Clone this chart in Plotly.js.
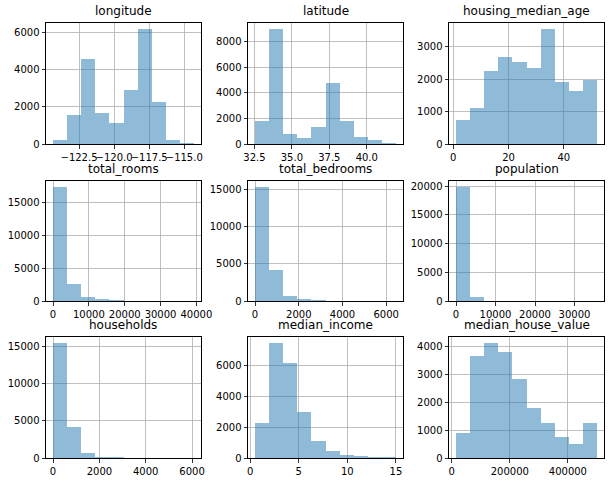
<!DOCTYPE html>
<html>
<head>
<meta charset="utf-8">
<script src="https://cdn.plot.ly/plotly-3.0.1.min.js"></script>
<style>html,body{margin:0;padding:0;background:#fff;}#chart{width:611px;height:482px;}</style>
</head>
<body>
<div id="chart"></div>
<script>
// Panel titles (column names)
const columns = ['longitude','latitude','housing_median_age','total_rooms','total_bedrooms','population','households','median_income','median_house_value'];

// Data range (min, max) of each column: the 10 equal bins span it
const longitudeRange = [-124.35, -114.31];
const latitudeRange = [32.54, 41.95];
const housingMedianAgeRange = [1, 52];
const totalRoomsRange = [2, 39320];
const totalBedroomsRange = [1, 6445];
const populationRange = [3, 35682];
const householdsRange = [1, 6082];
const medianIncomeRange = [0.4999, 15.0001];
const medianHouseValueRange = [14999, 500001];

// Bin counts (10 bins each)
const longitudeCounts = [216, 1568, 4595, 1676, 1135, 2919, 6216, 2270, 216, 54];
const latitudeCounts = [1824, 8990, 782, 495, 1329, 4769, 1798, 547, 313, 78];
const housingMedianAgeCounts = [742, 1113, 2258, 2691, 2536, 2351, 3557, 1918, 1639, 1990];
const totalRoomsCounts = [17409, 2659, 602, 230, 150, 30, 10, 4, 2, 2];
const totalBedroomsCounts = [15318, 4127, 666, 250, 120, 30, 10, 4, 2, 1];
const populationCounts = [19885, 690, 48, 10, 3, 1, 0, 1, 0, 1];
const householdsCounts = [15570, 4230, 720, 150, 90, 12, 6, 3, 1, 2];
const medianIncomeCounts = [2288, 7467, 6173, 3000, 1122, 475, 216, 151, 86, 80];
const medianHouseValueCounts = [905, 3655, 4119, 3798, 2833, 1798, 1262, 762, 512, 1262];

// Tick values
const longitudeXTicks = [-122.5, -120.0, -117.5, -115.0];
const latitudeXTicks = [32.5, 35.0, 37.5, 40.0];
const housingMedianAgeXTicks = [0, 20, 40];
const totalRoomsXTicks = [0, 10000, 20000, 30000, 40000];
const totalBedroomsXTicks = [0, 2000, 4000, 6000];
const populationXTicks = [0, 10000, 20000, 30000];
const householdsXTicks = [0, 2000, 4000, 6000];
const medianIncomeXTicks = [0, 5, 10, 15];
const medianHouseValueXTicks = [0, 200000, 400000];

const longitudeYTicks = [0, 2000, 4000, 6000];
const latitudeYTicks = [0, 2000, 4000, 6000, 8000];
const housingMedianAgeYTicks = [0, 1000, 2000, 3000];
const totalRoomsYTicks = [0, 5000, 10000, 15000];
const totalBedroomsYTicks = [0, 5000, 10000, 15000];
const populationYTicks = [0, 5000, 10000, 15000, 20000];
const householdsYTicks = [0, 5000, 10000, 15000];
const medianIncomeYTicks = [0, 2000, 4000, 6000];
const medianHouseValueYTicks = [0, 1000, 2000, 3000, 4000];

const ranges = [longitudeRange, latitudeRange, housingMedianAgeRange, totalRoomsRange, totalBedroomsRange, populationRange, householdsRange, medianIncomeRange, medianHouseValueRange];
const counts = [longitudeCounts, latitudeCounts, housingMedianAgeCounts, totalRoomsCounts, totalBedroomsCounts, populationCounts, householdsCounts, medianIncomeCounts, medianHouseValueCounts];
const xticks = [longitudeXTicks, latitudeXTicks, housingMedianAgeXTicks, totalRoomsXTicks, totalBedroomsXTicks, populationXTicks, householdsXTicks, medianIncomeXTicks, medianHouseValueXTicks];
const yticks = [longitudeYTicks, latitudeYTicks, housingMedianAgeYTicks, totalRoomsYTicks, totalBedroomsYTicks, populationYTicks, householdsYTicks, medianIncomeYTicks, medianHouseValueYTicks];
const xtickFormats = ['.1f', '.1f', 'd', 'd', 'd', 'd', 'd', 'd', 'd'];

const W = 611, H = 482;
const colPx = [[46, 201], [248, 403], [449, 604]];
const rowPx = [[23, 144], [181, 301], [337, 458]];

const FONT = 'DejaVu Sans, Arial, sans-serif';
const traces = [];
const layout = {
  width: W, height: H,
  margin: {l: 0, r: 0, t: 0, b: 0},
  paper_bgcolor: '#ffffff', plot_bgcolor: '#ffffff',
  showlegend: false, bargap: 0,
  font: {family: FONT, size: 10, color: '#000000'},
  annotations: []
};

for (let i = 0; i < 9; i++) {
  const [mn, mx] = ranges[i];
  const w = (mx - mn) / 10;
  const xs = counts[i].map((_, k) => mn + (k + 0.5) * w);
  const suffix = i === 0 ? '' : String(i + 1);
  traces.push({
    type: 'bar', x: xs, y: counts[i], width: w,
    xaxis: 'x' + suffix, yaxis: 'y' + suffix,
    marker: {color: '#1f77b4', opacity: 0.5, line: {width: 0}},
    hoverinfo: 'skip'
  });
  const c = i % 3, r = Math.floor(i / 3);
  const xd = [colPx[c][0] / W, colPx[c][1] / W];
  const yd = [1 - rowPx[r][1] / H, 1 - rowPx[r][0] / H];
  const pad = (mx - mn) * 0.05;
  const ymax = Math.max(...counts[i]) * 1.05;
  const common = {
    showline: true, mirror: true, linecolor: '#000000', linewidth: 1,
    showgrid: true, gridcolor: '#b0b0b0', gridwidth: 0.8,
    zeroline: false, ticks: 'outside', ticklen: 3.5, tickwidth: 0.8, tickcolor: '#000000',
    tickfont: {family: FONT, size: 10, color: '#000000'}, tickmode: 'array', fixedrange: true,
    tickangle: 0, automargin: false
  };
  layout['xaxis' + suffix] = Object.assign({}, common, {
    domain: xd, anchor: 'y' + suffix, range: [mn - pad, mx + pad],
    tickvals: xticks[i], tickformat: xtickFormats[i]
  });
  layout['yaxis' + suffix] = Object.assign({}, common, {
    domain: yd, anchor: 'x' + suffix, range: [0, ymax],
    tickvals: yticks[i], tickformat: 'd'
  });
  layout.annotations.push({
    text: columns[i], xref: 'paper', yref: 'paper',
    x: (xd[0] + xd[1]) / 2, y: yd[1], xanchor: 'center', yanchor: 'bottom',
    yshift: 3, showarrow: false, font: {family: FONT, size: 12, color: '#000000'}
  });
}

Plotly.newPlot('chart', traces, layout, {staticPlot: true, displayModeBar: false});
</script>
</body>
</html>
